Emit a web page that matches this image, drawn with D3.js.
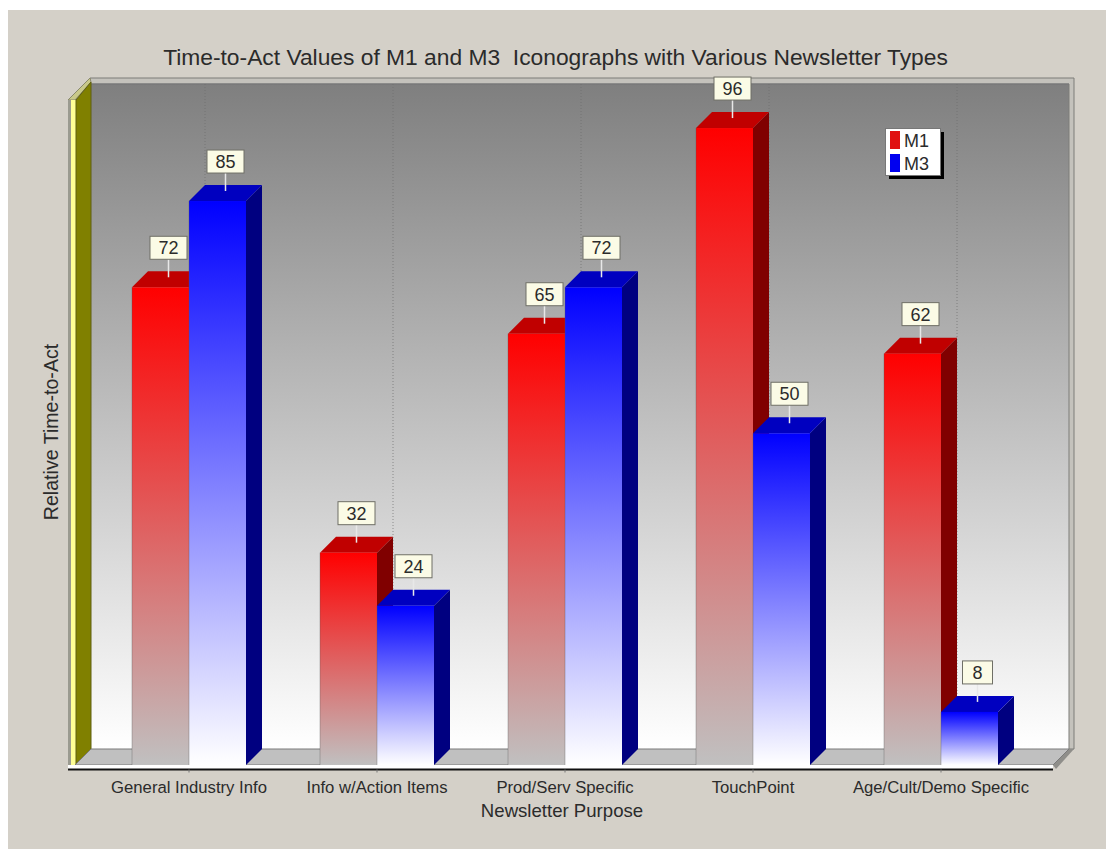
<!DOCTYPE html>
<html>
<head>
<meta charset="utf-8">
<script src="https://cdnjs.cloudflare.com/ajax/libs/d3/7.8.5/d3.min.js"></script>
<style>
html,body{margin:0;padding:0;background:#fff;}
svg{display:block;}
text{font-family:"Liberation Sans",Arial,sans-serif;fill:#2b2b2b;}
</style>
</head>
<body>
<svg id="chart" width="1106" height="849"></svg>
<script>
// Chart content
const titleText = "Time-to-Act Values of M1 and M3  Iconographs with Various Newsletter Types";
const xTitle = "Newsletter Purpose";
const yTitle = "Relative Time-to-Act";
const categories = ["General Industry Info","Info w/Action Items","Prod/Serv Specific","TouchPoint","Age/Cult/Demo Specific"];
const seriesNames = ["M1","M3"];
const m1Values = [72,32,65,96,62];
const m3Values = [85,24,72,50,8];

const seriesColors = {
  M1:{top:"#ff0000",end:"#c0c0c0",cap:"#c00000",side:"#800000",key:"#e01010"},
  M3:{top:"#0000ff",end:"#ffffff",cap:"#0000c0",side:"#000080",key:"#0000f0"}
};

const svg = d3.select("#chart");
const defs = svg.append("defs");

// Plot box: front floor edge and the depth offset of the 3D projection
const left = 75, right = 1053, floorY = 765, depth = 16, wallTop = 84;

const x0 = d3.scaleBand().domain(categories).range([95,1035]);
const x1 = d3.scaleBand().domain(seriesNames).range([37,151]);
const y = d3.scaleLinear().domain([0,100]).range([floorY,floorY-663.5]);

function poly(g,pts,fill,stroke){
  return g.append("polygon").attr("points",pts.map(p=>p.join(",")).join(" "))
    .attr("fill",fill).attr("stroke",stroke||"none");
}

// Panel
svg.append("rect").attr("x",8).attr("y",10).attr("width",1098).attr("height",839).attr("fill","#d4d0c8");

// Back wall gradient
const wallGrad = defs.append("linearGradient").attr("id","wallGrad").attr("x1",0).attr("x2",0).attr("y1",0).attr("y2",1);
wallGrad.append("stop").attr("offset",0).attr("stop-color","#7f7f7f");
wallGrad.append("stop").attr("offset",1).attr("stop-color","#ffffff");

seriesNames.forEach(s=>{
  const g = defs.append("linearGradient").attr("id","bar"+s).attr("x1",0).attr("x2",0).attr("y1",0).attr("y2",1);
  g.append("stop").attr("offset",0).attr("stop-color",seriesColors[s].top);
  g.append("stop").attr("offset",1).attr("stop-color",seriesColors[s].end);
});

const frame = svg.append("g");
frame.append("rect").attr("x",left+depth).attr("y",wallTop)
  .attr("width",right-left).attr("height",floorY-depth-wallTop).attr("fill","url(#wallGrad)");

// Outer rim along the top and right of the back wall
poly(frame,[[left+depth-1,78],[1074,78],[1074,749],[right+depth+5,749],[right+depth,749],[right+depth,wallTop],[left+depth-1,wallTop]],"#c4c2bc","#7c7c78");
frame.append("line").attr("x1",left+depth).attr("x2",1069).attr("y1",wallTop).attr("y2",wallTop).attr("stroke","#77777a").attr("stroke-width",1);
poly(frame,[[1069,749],[1074,749],[1056,769],[1053,765]],"#8f8e8a","none");

// Left wall
poly(frame,[[left-7,100],[left+depth-1,78],[left+depth,82],[left,100]],"#c9c98a","#8a8a6a");
frame.append("rect").attr("x",left-7).attr("y",100).attr("width",3).attr("height",669).attr("fill","#9a9a90");
frame.append("rect").attr("x",left-4).attr("y",100).attr("width",5).attr("height",669).attr("fill","#ffff96");
poly(frame,[[left+1,100],[left+depth,82],[left+depth,floorY-depth],[left+1,floorY]],"#808000","#5f5f10");

// Floor
poly(frame,[[left,floorY],[left+depth,floorY-depth],[right+depth,floorY-depth],[right,floorY]],"#c0c0c0","#7a7a7a");

// Vertical grid lines on the back wall, one per category boundary
frame.selectAll("line.grid").data(categories).join("line").attr("class","grid")
  .attr("x1",d=>x0(d)+x0.bandwidth()/2+depth).attr("x2",d=>x0(d)+x0.bandwidth()/2+depth)
  .attr("y1",wallTop).attr("y2",floorY-depth)
  .attr("stroke","#6e6e6e").attr("stroke-width",1).attr("stroke-dasharray","1,2").attr("stroke-opacity",0.7);

// Bars
const rows = categories.flatMap((c,i)=>[
  {c,s:"M1",v:m1Values[i]},
  {c,s:"M3",v:m3Values[i]}
]);

const barLayer = svg.append("g");
const barW = x1.bandwidth();
const bars = barLayer.selectAll("g").data(rows).join("g");
bars.each(function(d){
  const g = d3.select(this);
  const bx = x0(d.c)+x1(d.s), ty = y(d.v), col = seriesColors[d.s];
  poly(g,[[bx+barW,ty],[bx+barW+depth,ty-depth],[bx+barW+depth,floorY-depth],[bx+barW,floorY]],col.side);
  poly(g,[[bx,ty],[bx+depth,ty-depth],[bx+barW+depth,ty-depth],[bx+barW,ty]],col.cap);
  g.append("rect").attr("x",bx).attr("y",ty).attr("width",barW).attr("height",floorY-ty).attr("fill",`url(#bar${d.s})`);
});
// Soft outline on the bar fronts, visible where the gradient fades out
bars.append("line")
  .attr("x1",d=>x0(d.c)+x1(d.s)).attr("x2",d=>x0(d.c)+x1(d.s))
  .attr("y1",d=>y(d.v)).attr("y2",floorY).attr("stroke","#555").attr("stroke-opacity",0.35);

// Value labels with leader lines
const labels = svg.append("g").selectAll("g").data(rows).join("g")
  .attr("transform",d=>`translate(${x0(d.c)+x1(d.s)+barW/2+depth/2},${y(d.v)})`);
labels.append("line").attr("y1",-29).attr("y2",-10).attr("stroke","#e8e8e8").attr("stroke-width",1.5);
labels.append("rect")
  .attr("x",d=>d.v<10?-15:-18.5).attr("y",-51)
  .attr("width",d=>d.v<10?30:37).attr("height",23)
  .attr("fill","#fbfbe6").attr("stroke","#6f6f66");
labels.append("text").attr("y",-33).attr("text-anchor","middle").attr("font-size",18).text(d=>d.v);

// Front edge of the floor and the category axis
svg.append("rect").attr("x",left-7).attr("y",floorY).attr("width",right-left+7).attr("height",4).attr("fill","#fff");
const xAxis = svg.append("g").attr("transform",`translate(0,${floorY+4.5})`)
  .call(d3.axisBottom(x0).tickSize(3).tickPadding(9).tickSizeOuter(0));
xAxis.select(".domain").attr("stroke","#111").attr("stroke-width",2)
  .attr("d",`M${left-7},0H${right}`);
xAxis.selectAll(".tick line").attr("stroke","#777");
xAxis.selectAll(".tick text").attr("font-size",16.7).attr("font-family",'"Liberation Sans",Arial,sans-serif').attr("fill","#2b2b2b");

// Titles
svg.append("text").attr("x",555.5).attr("y",65).attr("text-anchor","middle").attr("font-size",22.8)
  .attr("xml:space","preserve").style("white-space","pre").text(titleText);
svg.append("text").attr("x",562).attr("y",817).attr("text-anchor","middle").attr("font-size",18.6).text(xTitle);
svg.append("text").attr("transform","translate(58,432) rotate(-90)").attr("text-anchor","middle").attr("font-size",19.6).text(yTitle);

// Legend
const legend = svg.append("g");
legend.append("rect").attr("x",889).attr("y",132).attr("width",55).attr("height",47).attr("fill","#000");
legend.append("rect").attr("x",885.5).attr("y",128.5).attr("width",55).attr("height",47).attr("fill","#fff").attr("stroke","#777");
const legendRows = legend.selectAll("g").data(seriesNames).join("g")
  .attr("transform",(d,i)=>`translate(890,${131+i*23})`);
legendRows.append("rect").attr("width",10).attr("height",18).attr("fill",d=>seriesColors[d].key);
legendRows.append("text").attr("x",14).attr("y",16).attr("font-size",18).text(d=>d);
</script>
</body>
</html>
